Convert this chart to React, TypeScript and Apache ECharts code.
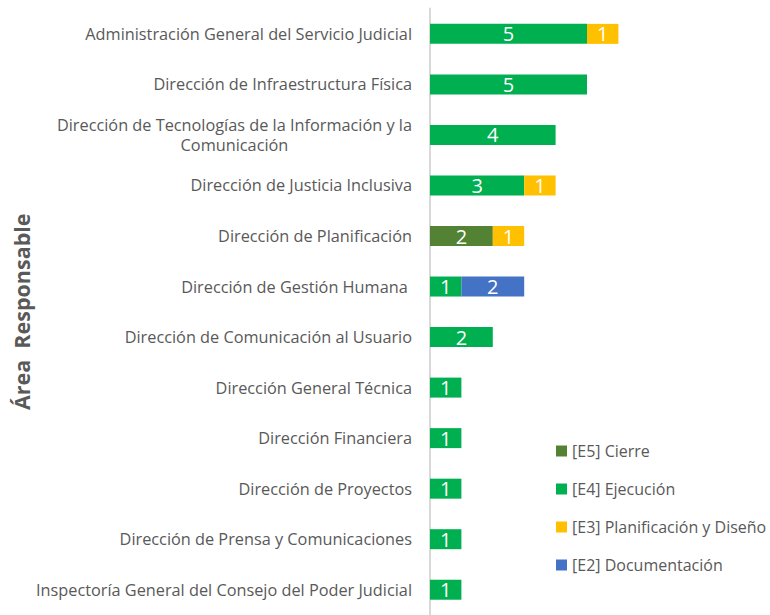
import React, { useEffect, useRef } from "react";
import * as echarts from "echarts";

const categories = [
  "Administración General del Servicio Judicial",
  "Dirección de Infraestructura Física",
  "Dirección de Tecnologías de la Información y la\nComunicación",
  "Dirección de Justicia Inclusiva",
  "Dirección de Planificación",
  "Dirección de Gestión Humana ",
  "Dirección de Comunicación al Usuario",
  "Dirección General Técnica",
  "Dirección Financiera",
  "Dirección de Proyectos",
  "Dirección de Prensa y Comunicaciones",
  "Inspectoría General del Consejo del Poder Judicial",
];

const seriesNames = [
  "[E5] Cierre",
  "[E4] Ejecución",
  "[E3] Planificación y Diseño",
  "[E2] Documentación",
];

const e5Cierre = [null, null, null, null, 2, null, null, null, null, null, null, null];
const e4Ejecucion = [5, 5, 4, 3, null, 1, 2, 1, 1, 1, 1, 1];
const e3Planificacion = [1, null, null, 1, 1, null, null, null, null, null, null, null];
const e2Documentacion = [null, null, null, null, null, 2, null, null, null, null, null, null];

const colors = ["#548235", "#00B050", "#FFC000", "#4472C4"];

export default function App() {
  const ref = useRef<HTMLDivElement>(null);
  useEffect(() => {
    if (!ref.current) return;
    const chart = echarts.init(ref.current, null, { renderer: "svg" });
    const font = "Open Sans";
    const dataSets = [e5Cierre, e4Ejecucion, e3Planificacion, e2Documentacion];
    chart.setOption({
      animation: false,
      color: colors,
      textStyle: { fontFamily: font },
      grid: { left: 430, top: 8.6, width: 314, height: 608.8 },
      legend: {
        orient: "vertical",
        left: 551,
        top: 438,
        itemWidth: 11,
        itemHeight: 11,
        itemGap: 22,
        icon: "rect",
        textStyle: { color: "#595959", fontSize: 16, fontFamily: font },
        data: seriesNames,
      },
      xAxis: { type: "value", min: 0, max: 10, show: false },
      yAxis: {
        type: "category",
        inverse: true,
        data: categories,
        name: "Área  Responsable",
        nameLocation: "middle",
        nameGap: 398,
        nameTextStyle: { color: "#595959", fontSize: 21.5, fontWeight: "bold", fontFamily: font },
        axisLine: { show: true, lineStyle: { color: "#D9D9D9", width: 2 } },
        axisTick: { show: false },
        axisLabel: {
          margin: 18,
          color: "#595959",
          fontSize: 16.3,
          fontFamily: font,
          lineHeight: 20,
          formatter: (v: string) =>
            v.indexOf("\n") >= 0
              ? v.split("\n").map((s) => `{c|${s}}`).join("\n")
              : v,
          rich: {
            c: { align: "center", color: "#595959", fontSize: 16.3, fontFamily: font, lineHeight: 20 },
          },
        },
      },
      series: seriesNames.map((name, i) => ({
        name,
        type: "bar",
        stack: "total",
        barWidth: 20,
        data: dataSets[i],
        itemStyle: { color: colors[i] },
        label: {
          show: true,
          position: "inside",
          color: "#FFFFFF",
          fontSize: 20,
          fontFamily: font,
          formatter: (p: any) => (p.value == null ? "" : String(p.value)),
        },
      })),
    });
    return () => chart.dispose();
  }, []);
  return (
    <div
      ref={ref}
      style={{ position: "fixed", left: 0, top: 0, width: 770, height: 615, background: "#fff" }}
    />
  );
}
